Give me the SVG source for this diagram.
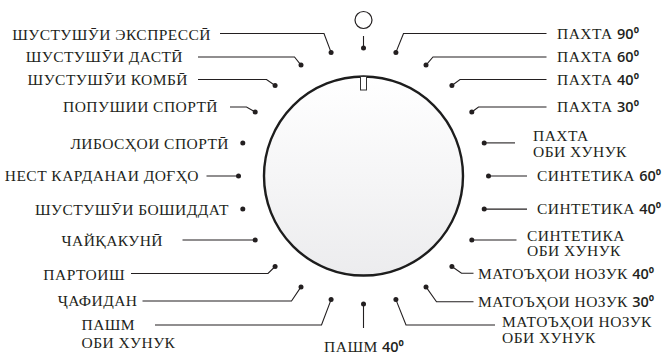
<svg xmlns="http://www.w3.org/2000/svg" width="663" height="354" viewBox="0 0 663 354">
<style>
.t{font-family:"Liberation Serif","DejaVu Serif",serif;font-size:15.5px;letter-spacing:0.45px;fill:#231f20}
.n{font-family:"Open Sans","Liberation Sans","DejaVu Sans",sans-serif;font-size:14.5px;font-weight:600;letter-spacing:0}
.e{text-anchor:end}
.m{text-anchor:middle}
.ln{fill:none;stroke:#231f20;stroke-width:1.1}
.dot{fill:#231f20}
</style>
<defs>
<linearGradient id="face" x1="0" y1="0" x2="0" y2="1">
<stop offset="0" stop-color="#ffffff"/>
<stop offset="1" stop-color="#ececee"/>
</linearGradient>
</defs>
<g id="dial">
<circle cx="363.5" cy="176" r="99.5" fill="url(#face)" stroke="#1d1d1d" stroke-width="2.4"/>
<rect x="360.5" y="76.5" width="6" height="13.5" fill="#fff" stroke="#333" stroke-width="1"/>
</g>
<g id="off-symbol">
<circle cx="363.5" cy="20" r="8.5" fill="none" stroke="#231f20" stroke-width="1.2"/>
</g>
<g id="connectors">
<path class="ln" d="M220,33.5 H324 L331.1,52.4"/>
<path class="ln" d="M198,57 H294.5 L301,65.1"/>
<path class="ln" d="M198,79.5 H266.5 L275.1,85.5"/>
<path class="ln" d="M230,107 H246.5 L255.2,112"/>
<path class="ln" d="M206.5,176 H238.5"/>
<path class="ln" d="M182.5,240 H255.2"/>
<path class="ln" d="M131,273.5 H268 L275.1,266.5"/>
<path class="ln" d="M142.5,301 H291.5 L301,286.9"/>
<path class="ln" d="M155,325 H321.5 L331.1,299.6"/>
<path class="ln" d="M363.5,36 V48"/>
<path class="ln" d="M546.5,33.5 H403.5 L395.9,52.4"/>
<path class="ln" d="M546.5,57 H433 L426,65.1"/>
<path class="ln" d="M546.5,79.5 H460 L451.9,85.5"/>
<path class="ln" d="M546.5,107 H478.5 L471.8,112"/>
<path class="ln" d="M515,142.9 H484.2"/>
<path class="ln" d="M527,176 H488.5"/>
<path class="ln" d="M527,209.1 H484.2"/>
<path class="ln" d="M516.5,240 H471.8"/>
<path class="ln" d="M473.5,273.3 H461.5 L451.9,266.5"/>
<path class="ln" d="M473.5,301.7 H436.5 L426,286.9"/>
<path class="ln" d="M495,325 H406 L395.9,299.6"/>
<path class="ln" d="M363.5,304 V328"/>
</g>
<g id="dots">
<circle class="dot" cx="363.5" cy="48" r="2.5"/>
<circle class="dot" cx="395.9" cy="52.4" r="2.5"/>
<circle class="dot" cx="426" cy="65.1" r="2.5"/>
<circle class="dot" cx="451.9" cy="85.5" r="2.5"/>
<circle class="dot" cx="471.8" cy="112" r="2.5"/>
<circle class="dot" cx="484.2" cy="142.9" r="2.5"/>
<circle class="dot" cx="488.5" cy="176" r="2.5"/>
<circle class="dot" cx="484.2" cy="209.1" r="2.5"/>
<circle class="dot" cx="471.8" cy="240" r="2.5"/>
<circle class="dot" cx="451.9" cy="266.5" r="2.5"/>
<circle class="dot" cx="426" cy="286.9" r="2.5"/>
<circle class="dot" cx="395.9" cy="299.6" r="2.5"/>
<circle class="dot" cx="363.5" cy="304" r="2.5"/>
<circle class="dot" cx="331.1" cy="299.6" r="2.5"/>
<circle class="dot" cx="301" cy="286.9" r="2.5"/>
<circle class="dot" cx="275.1" cy="266.5" r="2.5"/>
<circle class="dot" cx="255.2" cy="240" r="2.5"/>
<circle class="dot" cx="242.8" cy="209.1" r="2.5"/>
<circle class="dot" cx="238.5" cy="176" r="2.5"/>
<circle class="dot" cx="242.8" cy="142.9" r="2.5"/>
<circle class="dot" cx="255.2" cy="112" r="2.5"/>
<circle class="dot" cx="275.1" cy="85.5" r="2.5"/>
<circle class="dot" cx="301" cy="65.1" r="2.5"/>
<circle class="dot" cx="331.1" cy="52.4" r="2.5"/>
</g>
<g id="label-express"><text class="t e" x="211" y="39.5">ШУСТУШӮИ ЭКСПРЕССӢ</text></g>
<g id="label-dasti"><text class="t e" x="183" y="62">ШУСТУШӮИ ДАСТӢ</text></g>
<g id="label-kombi"><text class="t e" x="188" y="84.5">ШУСТУШӮИ КОМБӢ</text></g>
<g id="label-popushii"><text class="t e" x="218" y="112">ПОПУШИИ СПОРТӢ</text></g>
<g id="label-libos"><text class="t e" x="229" y="148.5">ЛИБОСҲОИ СПОРТӢ</text></g>
<g id="label-nest"><text class="t e" x="199" y="181">НЕСТ КАРДАНАИ ДОҒҲО</text></g>
<g id="label-boshiddat"><text class="t e" x="229" y="214.5">ШУСТУШӮИ БОШИДДАТ</text></g>
<g id="label-chayqa"><text class="t e" x="163" y="245.5">ЧАЙҚАКУНӢ</text></g>
<g id="label-partoish"><text class="t e" x="125" y="280">ПАРТОИШ</text></g>
<g id="label-jafidan"><text class="t e" x="137.5" y="305.5">ҶАФИДАН</text></g>
<g id="label-pashm"><text class="t" x="81.5" y="330">ПАШМ<tspan x="81.5" y="348">ОБИ ХУНУК</tspan></text></g>
<g id="label-pashm40"><text class="t m" x="364" y="351.5">ПАШМ <tspan class="n">40⁰</tspan></text></g>
<g id="label-paxta90"><text class="t" x="557" y="39">ПАХТА <tspan class="n">90⁰</tspan></text></g>
<g id="label-paxta60"><text class="t" x="557" y="62">ПАХТА <tspan class="n">60⁰</tspan></text></g>
<g id="label-paxta40"><text class="t" x="557" y="84.5">ПАХТА <tspan class="n">40⁰</tspan></text></g>
<g id="label-paxta30"><text class="t" x="557" y="112">ПАХТА <tspan class="n">30⁰</tspan></text></g>
<g id="label-paxta-cold"><text class="t" x="533" y="141">ПАХТА<tspan x="533" y="157">ОБИ ХУНУК</tspan></text></g>
<g id="label-sint60"><text class="t" x="537" y="181">СИНТЕТИКА <tspan class="n">60⁰</tspan></text></g>
<g id="label-sint40"><text class="t" x="537" y="214">СИНТЕТИКА <tspan class="n">40⁰</tspan></text></g>
<g id="label-sint-cold"><text class="t" x="527" y="240.5">СИНТЕТИКА<tspan x="527" y="256">ОБИ ХУНУК</tspan></text></g>
<g id="label-mato40"><text class="t" x="478" y="278.5">МАТОЪҲОИ НОЗУК <tspan class="n">40⁰</tspan></text></g>
<g id="label-mato30"><text class="t" x="478" y="307">МАТОЪҲОИ НОЗУК <tspan class="n">30⁰</tspan></text></g>
<g id="label-mato-cold"><text class="t" x="502" y="327">МАТОЪҲОИ НОЗУК<tspan x="502" y="343">ОБИ ХУНУК</tspan></text></g>
</svg>
